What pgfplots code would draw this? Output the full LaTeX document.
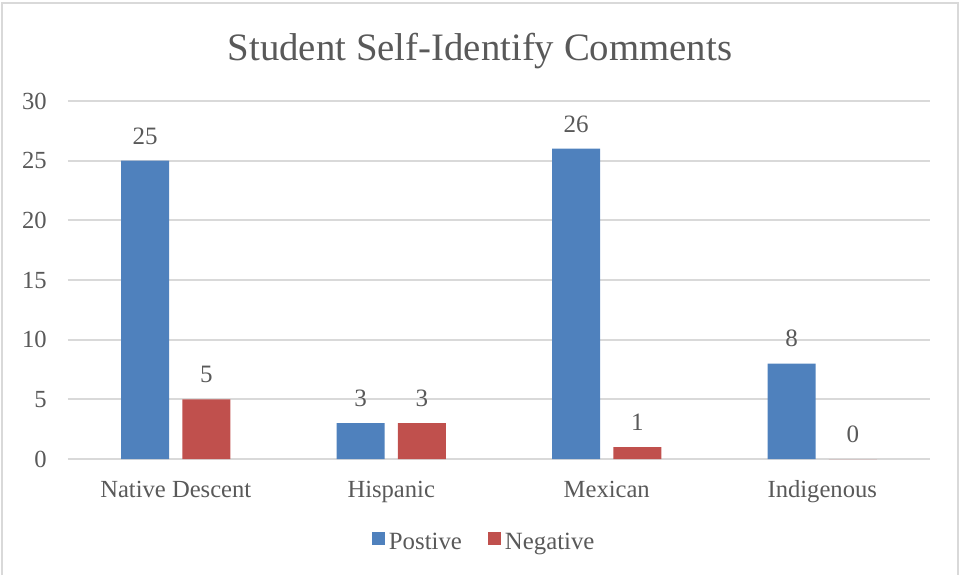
\documentclass[border=0pt]{standalone}
\usepackage{fontspec}
\setmainfont{Liberation Serif}
\usepackage{pgfplots}
\pgfplotsset{compat=1.18}
\definecolor{txt}{HTML}{595959}
\definecolor{gridc}{HTML}{D9D9D9}
\definecolor{framec}{HTML}{D9D9D9}
\definecolor{posblue}{HTML}{4F81BD}
\definecolor{negred}{HTML}{C0504D}

\begin{document}
\begin{tikzpicture}
  % page: 959 x 575 px at 0.5pt per px
  \path[use as bounding box] (0,0) rectangle (479.5pt,287.5pt);
  \draw[framec,line width=1pt] (1pt,0) -- (1pt,286pt) -- (479pt,286pt) -- (479pt,0);
  \node[anchor=base,text=txt,font=\fontsize{19.4}{22}\selectfont]
    at (240pt,257.5pt) {Student Self-Identify Comments};
  \begin{axis}[
      at={(34pt,58pt)}, anchor=south west,
      scale only axis,
      width=431pt, height=179pt,
      xmin=-0.5, xmax=3.5,
      ymin=0, ymax=30,
      ytick={0,5,...,30},
      xtick=data,
      xticklabels={Native Descent,Hispanic,Mexican,Indigenous},
      ybar=6.7pt,
      bar width=24pt,
      axis line style={draw=none},
      major tick length=0pt,
      ymajorgrids=true,
      grid style={draw=gridc,line width=1pt},
      /pgf/number format/assume math mode=true,
      tick label style={font=\fontsize{12.3}{14}\selectfont,text=txt},
      yticklabel style={anchor=east,inner sep=0pt,xshift=-10.5pt},
      xticklabel style={anchor=base,inner sep=0pt,yshift=-19pt},
      nodes near coords,
      every node near coord/.append style={
        font=\fontsize{12.5}{14}\selectfont,text=txt,
        anchor=south,inner sep=0pt,yshift=8pt},
      legend columns=2,
      legend style={draw=none,fill=none,at={(0.484,-0.234)},anchor=center,
        font=\fontsize{12.4}{14}\selectfont,text=txt,
        /tikz/every even column/.append style={column sep=11pt}},
      legend image code/.code={\fill[#1] (0pt,-1pt) rectangle (6.5pt,5.5pt);},
      clip=false,
    ]
    \addplot[fill=posblue,draw=none] coordinates {(0,25) (1,3) (2,26) (3,8)};
    \addplot[fill=negred,draw=none] coordinates {(0,5) (1,3) (2,1) (3,0)};
    \legend{Postive,Negative}
  \end{axis}
\end{tikzpicture}
\end{document}
